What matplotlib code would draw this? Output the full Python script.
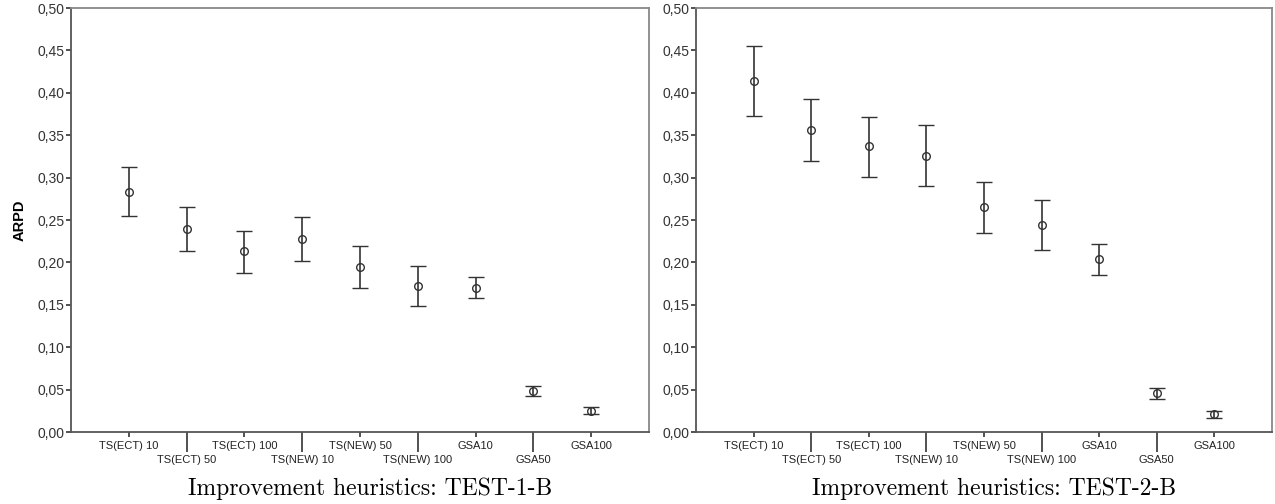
import matplotlib
matplotlib.use("Agg")
import matplotlib.pyplot as plt
from matplotlib.ticker import FuncFormatter

categories = ["TS(ECT) 10", "TS(ECT) 50", "TS(ECT) 100", "TS(NEW) 10", "TS(NEW) 50",
              "TS(NEW) 100", "GSA10", "GSA50", "GSA100"]

# TEST-1-B: mean, lower and upper end of the interval
mean_1 = [0.283, 0.239, 0.213, 0.228, 0.194, 0.172, 0.170, 0.048, 0.025]
low_1 = [0.255, 0.213, 0.188, 0.202, 0.170, 0.149, 0.158, 0.042, 0.021]
high_1 = [0.312, 0.265, 0.237, 0.254, 0.219, 0.196, 0.183, 0.054, 0.030]

# TEST-2-B
mean_2 = [0.414, 0.356, 0.337, 0.325, 0.265, 0.244, 0.204, 0.046, 0.021]
low_2 = [0.373, 0.319, 0.301, 0.290, 0.235, 0.215, 0.185, 0.039, 0.016]
high_2 = [0.455, 0.393, 0.372, 0.362, 0.295, 0.273, 0.222, 0.052, 0.025]

titles = ["Improvement heuristics: TEST-1-B", "Improvement heuristics: TEST-2-B"]

plt.rcParams["font.family"] = ["Liberation Sans", "DejaVu Sans"]

fig = plt.figure(figsize=(12.75, 5.04), dpi=100)
ax1 = fig.add_axes([71 / 1275, 72 / 504, 578 / 1275, 424 / 504])
ax2 = fig.add_axes([696 / 1275, 72 / 504, 576 / 1275, 424 / 504])

line_col = "#333333"
comma_fmt = FuncFormatter(lambda v, p: f"{v:.2f}".replace(".", ","))

for ax, m, lo, hi, title in [(ax1, mean_1, low_1, high_1, titles[0]),
                             (ax2, mean_2, low_2, high_2, titles[1])]:
    x = list(range(1, len(categories) + 1))
    yerr = [[mi - l for mi, l in zip(m, lo)], [h - mi for mi, h in zip(m, hi)]]
    ax.errorbar(x, m, yerr=yerr, fmt="o", mfc="none", mec=line_col, ms=5.5, mew=1.0,
                ecolor=line_col, elinewidth=1.2, capsize=5.5, capthick=1.2)

    ax.set_xlim(0, 10)
    ax.set_ylim(0, 0.5)
    ax.set_yticks([i * 0.05 for i in range(11)])
    ax.yaxis.set_major_formatter(comma_fmt)

    # staggered category labels: odd on top row, even below with longer ticks
    ax.set_xticks(x[0::2], labels=categories[0::2])
    ax.set_xticks(x[1::2], labels=categories[1::2], minor=True)
    ax.tick_params(axis="x", which="major", length=3.6, width=1.2, color=line_col,
                   pad=3, labelsize=8, labelcolor="#222222")
    ax.tick_params(axis="x", which="minor", length=14.4, width=1.2, color=line_col,
                   pad=2.5, labelsize=8, labelcolor="#222222")
    ax.tick_params(axis="y", length=3.6, width=1.2, color=line_col, pad=1,
                   labelsize=10, labelcolor="#333333")

    for side in ["left", "bottom"]:
        ax.spines[side].set_color("#555555")
        ax.spines[side].set_linewidth(1.3)
    for side in ["top", "right"]:
        ax.spines[side].set_color("#888888")
        ax.spines[side].set_linewidth(1.3)

    # caption under each panel
    bb = ax.get_position()
    fig.text(bb.x0 + bb.width / 2 + 10 / 1275, 9 / 504, title, ha="center", va="baseline",
             fontsize=17, family="cmr10")

ax1.set_ylabel("ARPD", fontsize=10.5, fontweight="bold", labelpad=8)

fig.savefig("out.png", dpi=100)
